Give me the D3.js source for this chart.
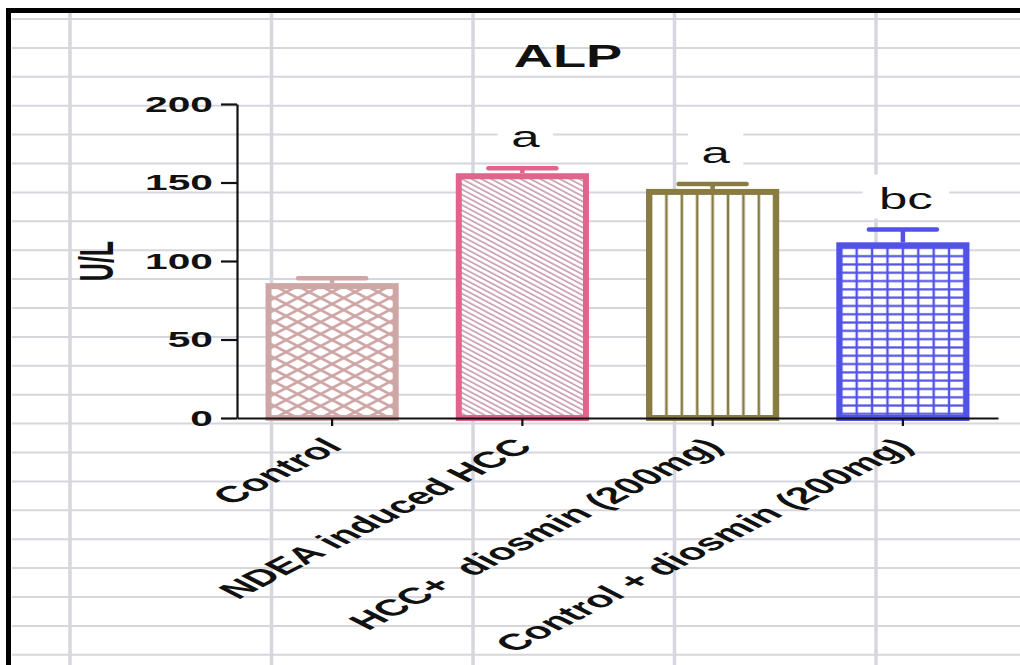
<!DOCTYPE html>
<html>
<head>
<meta charset="utf-8">
<script src="https://cdn.jsdelivr.net/npm/d3@7"></script>
<style>
  html, body { margin: 0; padding: 0; background: #fff; }
  svg { display: block; }
  text { font-family: "Liberation Sans", Arial, sans-serif; }
</style>
</head>
<body>
<svg id="chart" width="1020" height="665"></svg>
<script>
// ---- data ----
const categories = ["Control", "NDEA induced HCC", "HCC+  diosmin (200mg)", "Control + diosmin (200mg)"];
const means = [84, 154, 144, 110];
const errors = [5, 5, 5, 10];
const letters = ["", "a", "a", "bc"];
const yTicks = [0, 50, 100, 150, 200];
const title = "ALP";
const yLabel = "U/L";

// ---- styles ----
const barColors = ["#cfa6a6", "#e0648c", "#887c43", "#5252e6"];
const hatchColors = ["#cfa6a6", "#b9829a", "#887c43", "#5252e6"];
const S = 1.85; // horizontal text stretch

const svg = d3.select("#chart");
const W = 1020, H = 665;

// background paper grid
const grid = svg.append("g");
const hStep = 28.9, vStep = 201.5;
for (let yy = 19; yy < H; yy += hStep) {
  grid.append("line").attr("x1", 12).attr("x2", W).attr("y1", yy).attr("y2", yy)
    .attr("stroke", "#d6d6dd").attr("stroke-width", 2);
}
for (let xx = 70; xx < W; xx += vStep) {
  grid.append("line").attr("x1", xx).attr("x2", xx).attr("y1", 12).attr("y2", H)
    .attr("stroke", "#d6d6de").attr("stroke-width", 3.5);
}
// frame
svg.append("line").attr("x1", 6).attr("x2", W).attr("y1", 10.5).attr("y2", 10.5)
  .attr("stroke", "#000").attr("stroke-width", 5);
svg.append("line").attr("x1", 8.5).attr("x2", 8.5).attr("y1", 8).attr("y2", H)
  .attr("stroke", "#000").attr("stroke-width", 5);

// scales
const x = d3.scaleBand().domain(categories).range([237, 998]).paddingInner(0.3).paddingOuter(0.15);
const y = d3.scaleLinear().domain([0, 200]).range([418, 104]);

// patterns
const defs = svg.append("defs");
categories.forEach((c, i) => {
  const cx = x(c) + x.bandwidth() / 2;
  const p = defs.append("pattern").attr("id", "pat" + i).attr("patternUnits", "userSpaceOnUse");
  if (i === 0) {
    p.attr("width", 23).attr("height", 12).attr("x", cx - 11.5).attr("y", y(0));
    p.append("rect").attr("width", 23).attr("height", 12).attr("fill", "#fff");
    p.append("path").attr("d", "M0,0L23,12M0,12L23,0M-23,0L0,12M23,0L46,12")
      .attr("stroke", hatchColors[i]).attr("stroke-width", 2.8).attr("fill", "none");
  } else if (i === 1) {
    p.attr("width", 10).attr("height", 4.6).attr("patternTransform", "rotate(28)");
    p.append("rect").attr("width", 10).attr("height", 4.6).attr("fill", "#fff");
    p.append("line").attr("x1", 0).attr("x2", 10).attr("y1", 1).attr("y2", 1)
      .attr("stroke", hatchColors[i]).attr("stroke-width", 1.3);
  } else if (i === 2) {
    p.attr("width", 15.4).attr("height", 10).attr("x", cx - 3 * 15.4 - 7.7);
    p.append("rect").attr("width", 15.4).attr("height", 10).attr("fill", "#fff");
    p.append("line").attr("x1", 7.7).attr("x2", 7.7).attr("y1", 0).attr("y2", 10)
      .attr("stroke", hatchColors[i]).attr("stroke-width", 2.6);
  } else {
    p.attr("width", 15.4).attr("height", 8.3).attr("x", cx - 3 * 15.4 - 7.7).attr("y", y(0));
    p.append("rect").attr("width", 15.4).attr("height", 8.3).attr("fill", "#fff");
    p.append("line").attr("x1", 7.7).attr("x2", 7.7).attr("y1", 0).attr("y2", 8.3)
      .attr("stroke", hatchColors[i]).attr("stroke-width", 2.4);
    p.append("line").attr("x1", 0).attr("x2", 15.4).attr("y1", 4.15).attr("y2", 4.15)
      .attr("stroke", hatchColors[i]).attr("stroke-width", 2.2);
  }
});

// bars
const sw = 6;
svg.append("g").selectAll("rect").data(categories).join("rect")
  .attr("x", d => x(d) + sw / 2)
  .attr("width", x.bandwidth() - sw)
  .attr("y", (d, i) => y(means[i]))
  .attr("height", (d, i) => y(0) - y(means[i]))
  .attr("fill", (d, i) => "url(#pat" + i + ")")
  .attr("stroke", (d, i) => barColors[i])
  .attr("stroke-width", sw);

// error bars
const eg = svg.append("g");
categories.forEach((c, i) => {
  const cx = x(c) + x.bandwidth() / 2;
  eg.append("line").attr("x1", cx).attr("x2", cx)
    .attr("y1", y(means[i]) - sw / 2).attr("y2", y(means[i] + errors[i]))
    .attr("stroke", barColors[i]).attr("stroke-width", 4.5);
  eg.append("line").attr("x1", cx - 34).attr("x2", cx + 34)
    .attr("y1", y(means[i] + errors[i])).attr("y2", y(means[i] + errors[i]))
    .attr("stroke", barColors[i]).attr("stroke-width", 4.5).attr("stroke-linecap", "round");
});

// significance letters
const lg = svg.append("g");
categories.forEach((c, i) => {
  if (!letters[i]) return;
  const cx = x(c) + x.bandwidth() / 2 + 3;
  const by = y(means[i] + errors[i]) - 21;
  const tw = letters[i].length * 17 * S + 24;
  lg.append("rect").attr("x", cx - tw / 2).attr("y", by - 34).attr("width", tw).attr("height", 44)
    .attr("fill", "#fff");
  lg.append("text").attr("transform", `translate(${cx},${by}) scale(1.7,1)`)
    .attr("text-anchor", "middle").attr("font-size", 30).attr("fill", "#111")
    .text(letters[i]);
});

// y axis
const yAxis = svg.append("g").attr("transform", "translate(237,0)")
  .call(d3.axisLeft(y).tickValues(yTicks).tickSize(16).tickSizeOuter(0).tickPadding(8));
yAxis.selectAll("path, line").attr("stroke", "#111").attr("stroke-width", 2.2);
yAxis.selectAll("text")
  .attr("x", -24 / S)
  .attr("transform", `scale(${S},1)`)
  .attr("font-size", 22).attr("font-weight", "bold").attr("fill", "#111")
  .attr("font-family", "'Liberation Sans', Arial, sans-serif");

// x axis
const xAxis = svg.append("g").attr("transform", "translate(0,418)")
  .call(d3.axisBottom(x).tickSize(8).tickSizeOuter(0));
xAxis.selectAll("path, line").attr("stroke", "#111").attr("stroke-width", 2.2);
xAxis.selectAll("text")
  .attr("x", 0).attr("y", 0).attr("dy", 0)
  .attr("text-anchor", "end")
  .attr("transform", `translate(12,30) scale(${S + 0.1},1) rotate(-45)`)
  .attr("font-size", 23).attr("font-weight", "bold").attr("fill", "#111")
  .attr("font-family", "'Liberation Sans', Arial, sans-serif")
  .style("white-space", "pre");

// y label
svg.append("text").attr("transform", `translate(113,261) scale(1.95,1) rotate(-90)`)
  .attr("text-anchor", "middle").attr("font-size", 25).attr("font-weight", "bold")
  .attr("fill", "#111").text(yLabel);

// title
svg.append("text").attr("transform", `translate(568,67) scale(1.75,1)`)
  .attr("text-anchor", "middle").attr("font-size", 31).attr("font-weight", "bold")
  .attr("fill", "#111").text(title);
</script>
</body>
</html>
